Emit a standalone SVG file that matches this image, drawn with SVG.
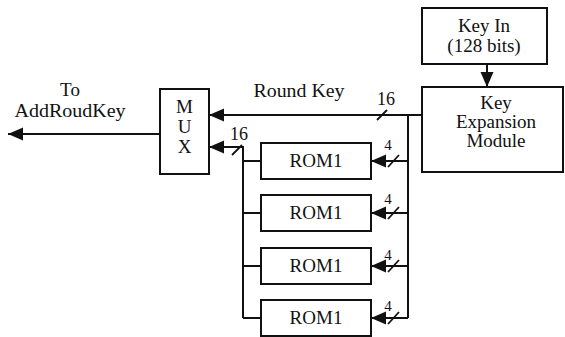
<svg xmlns="http://www.w3.org/2000/svg" width="565" height="337" viewBox="0 0 565 337" font-family="'Liberation Serif', 'DejaVu Serif', serif">
<style>
text{fill:#111;text-anchor:middle}
.t{font-size:18px}
.b{font-size:19px}
.s{font-size:15px}
.box{fill:#fff;stroke:#111;stroke-width:2}
.ln{stroke:#111;stroke-width:2;fill:none}
.sl{stroke:#111;stroke-width:1.8}
</style>
<defs>
<marker id="ah" markerUnits="userSpaceOnUse" markerWidth="16" markerHeight="14" refX="15" refY="6.5" orient="auto">
<path d="M0,0 L15,6.5 L0,13 z" fill="#111"/>
</marker>
</defs>
<rect width="565" height="337" fill="#fff"/>
<g id="connectors">
<line class="ln" x1="160" y1="134" x2="8" y2="134" marker-end="url(#ah)"/>
<line class="ln" x1="487" y1="64" x2="487" y2="87" marker-end="url(#ah)"/>
<line class="ln" x1="422" y1="115" x2="209" y2="115" marker-end="url(#ah)"/>
<polyline class="ln" points="243,318 243,147 209,147" marker-end="url(#ah)"/>
<line class="ln" x1="408" y1="115" x2="408" y2="318"/>
<line class="ln" x1="408" y1="161" x2="371" y2="161" marker-end="url(#ah)"/>
<line class="ln" x1="408" y1="213" x2="371" y2="213" marker-end="url(#ah)"/>
<line class="ln" x1="408" y1="266" x2="371" y2="266" marker-end="url(#ah)"/>
<line class="ln" x1="408" y1="318" x2="371" y2="318" marker-end="url(#ah)"/>
<line class="ln" x1="243" y1="161" x2="261" y2="161"/>
<line class="ln" x1="243" y1="213" x2="261" y2="213"/>
<line class="ln" x1="243" y1="266" x2="261" y2="266"/>
<line class="ln" x1="243" y1="318" x2="261" y2="318"/>
<line class="sl" x1="377" y1="120" x2="387" y2="110"/>
<line class="sl" x1="232" y1="155" x2="242" y2="145"/>
<line class="sl" x1="388" y1="167" x2="399" y2="155"/>
<line class="sl" x1="388" y1="219" x2="399" y2="207"/>
<line class="sl" x1="388" y1="272" x2="399" y2="260"/>
<line class="sl" x1="388" y1="324" x2="399" y2="312"/>
<text class="t" x="299" y="97" textLength="91" lengthAdjust="spacingAndGlyphs">Round Key</text>
<text class="t" x="386" y="105">16</text>
<text class="t" x="239" y="140">16</text>
<text class="s" x="388" y="150">4</text>
<text class="s" x="388" y="204">4</text>
<text class="s" x="388" y="260">4</text>
<text class="s" x="388" y="311">4</text>
<text class="b" x="70" y="96">To</text>
<text class="t" x="70" y="117" textLength="111" lengthAdjust="spacingAndGlyphs">AddRoudKey</text>
</g>
<g id="mux">
<rect class="box" x="160" y="89" width="49" height="85"/>
<text class="b" x="184.5" y="113">M</text>
<text class="b" x="184.5" y="133">U</text>
<text class="b" x="184.5" y="153">X</text>
</g>
<g id="keyin">
<rect class="box" x="422" y="8" width="125" height="56"/>
<text class="b" x="484" y="32">Key In</text>
<text class="b" x="484" y="52">(128 bits)</text>
</g>
<g id="keyexp">
<rect class="box" x="422" y="87" width="141" height="85"/>
<text class="b" x="496" y="109">Key</text>
<text class="b" x="496" y="128">Expansion</text>
<text class="b" x="496" y="147">Module</text>
</g>
<g id="rom1a">
<rect class="box" x="261" y="143" width="110" height="36"/>
<text class="b" x="316" y="167">ROM1</text>
</g>
<g id="rom1b">
<rect class="box" x="261" y="195" width="110" height="36"/>
<text class="b" x="316" y="219">ROM1</text>
</g>
<g id="rom1c">
<rect class="box" x="261" y="248" width="110" height="36"/>
<text class="b" x="316" y="272">ROM1</text>
</g>
<g id="rom1d">
<rect class="box" x="261" y="300" width="110" height="36"/>
<text class="b" x="316" y="324">ROM1</text>
</g>
</svg>
